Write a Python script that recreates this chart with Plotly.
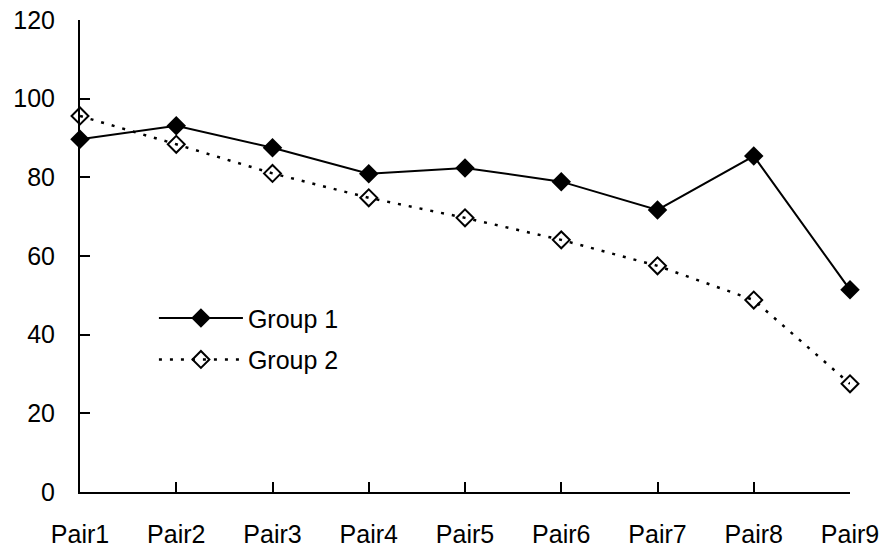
import plotly.graph_objects as go

categories = ["Pair1", "Pair2", "Pair3", "Pair4", "Pair5", "Pair6", "Pair7", "Pair8", "Pair9"]
group1 = [89.7, 93.1, 87.5, 80.9, 82.4, 78.9, 71.7, 85.4, 51.4]
group2 = [95.6, 88.4, 81.0, 74.8, 69.7, 64.1, 57.5, 48.8, 27.5]
y_ticks = [0, 20, 40, 60, 80, 100, 120]

FONT = "Liberation Sans"

fig = go.Figure()
fig.add_trace(go.Scatter(
    x=categories, y=group1, name="Group 1", mode="lines+markers",
    line=dict(color="black", width=2),
    marker=dict(symbol="diamond", size=15, color="black"),
    cliponaxis=False, legendgroup="g1",
))
fig.add_trace(go.Scatter(
    x=categories, y=group2, name="Group 2", mode="lines+markers",
    line=dict(color="black", width=2.5, dash="3px,8px"),
    marker=dict(symbol="diamond-open", size=13, color="black", line=dict(width=2)),
    cliponaxis=False, legendgroup="g2",
))

fig.update_layout(
    width=882, height=548,
    margin=dict(l=80, r=32, t=20, b=56, autoexpand=False),
    paper_bgcolor="white", plot_bgcolor="white",
    font=dict(family=FONT, size=25, color="black"),
    showlegend=True,
    legend=dict(
        x=0.096, y=0.417, xanchor="left", yanchor="top",
        bgcolor="rgba(0,0,0,0)", font=dict(size=25),
        traceorder="grouped", tracegroupgap=6, itemwidth=84,
    ),
    xaxis=dict(
        type="category", range=[0, len(categories) - 1],
        showline=True, linecolor="black", linewidth=2,
        ticks="inside", ticklen=10, tickwidth=2, tickcolor="black",
        showgrid=False, zeroline=False, ticklabelstandoff=19,
        automargin=False, tickfont=dict(size=25), ticklabeloverflow="allow",
    ),
    yaxis=dict(
        range=[0, 120], tickvals=y_ticks,
        showline=True, linecolor="black", linewidth=2,
        ticks="inside", ticklen=10, tickwidth=2, tickcolor="black",
        showgrid=False, zeroline=False, ticklabelstandoff=18,
        automargin=False, tickfont=dict(size=25), ticklabeloverflow="allow",
    ),
)

fig.write_html(
    "out.html",
    config={"responsive": False, "displayModeBar": False},
    post_script="document.body.style.margin='0';document.body.style.overflow='hidden';",
)
